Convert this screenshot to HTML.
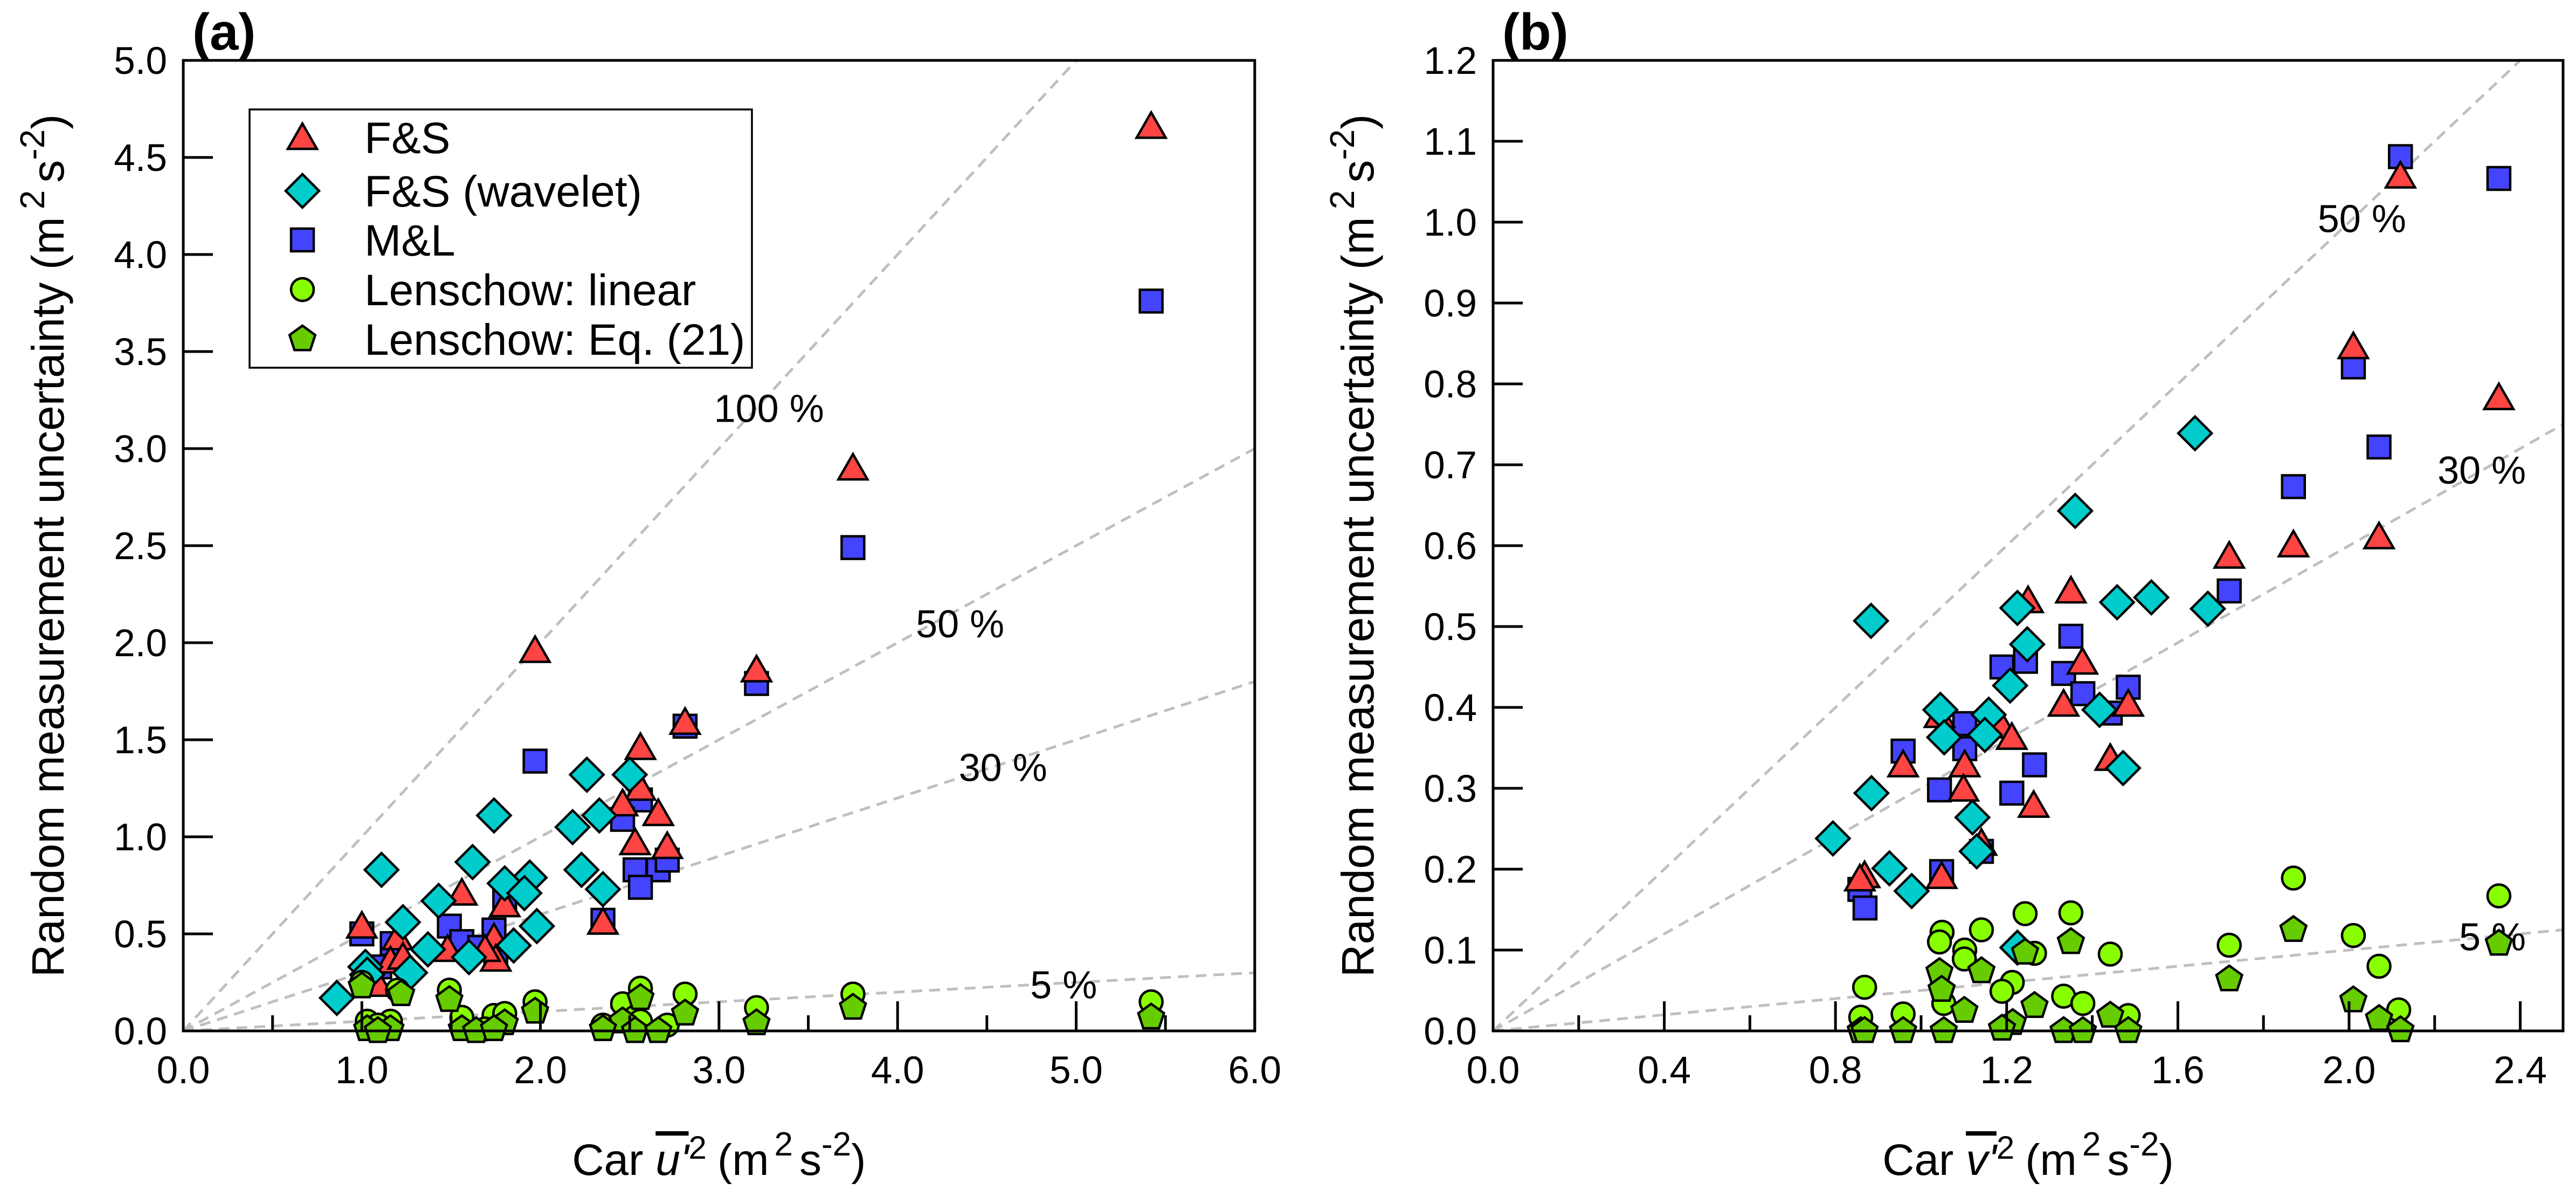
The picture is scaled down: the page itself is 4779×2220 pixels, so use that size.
<!DOCTYPE html>
<html><head><meta charset="utf-8"><style>
html,body{margin:0;padding:0;background:#fff}
svg{display:block}
text{font-family:"Liberation Sans",Arial,sans-serif;fill:#000}
</style></head><body>
<svg id="chart" width="4779" height="2220" viewBox="0 0 4779 2220" xmlns="http://www.w3.org/2000/svg">
<defs>
<clipPath id="clipA"><rect x="340" y="113" width="1988" height="1799"/></clipPath>
<clipPath id="clipB"><rect x="2770" y="113" width="1985" height="1799"/></clipPath>
</defs>
<g id="root"></g>
</svg>
<script>
// ---- Panel (a) data ----
const aFSx = [1.97,2.81,2.56,2.56,2.46,2.66,2.53,2.71,1.56,1.00,1.20,1.74,1.80,2.35,1.48,1.16,1.75,1.69,1.09,1.23,3.21,3.75,5.42];
const aFSy = [1.96,1.59,1.46,1.25,1.17,1.12,0.97,0.95,0.71,0.54,0.48,0.48,0.65,0.56,0.42,0.36,0.37,0.42,0.24,0.38,1.86,2.90,4.66];
const aMLx = [1.97,2.81,2.56,2.46,2.53,2.66,2.71,2.56,2.35,1.00,1.49,1.80,1.74,1.56,1.17,1.66,1.75,1.03,1.10,3.21,3.75,5.42];
const aMLy = [1.39,1.57,1.19,1.09,0.83,0.83,0.88,0.74,0.57,0.50,0.54,0.68,0.52,0.46,0.45,0.43,0.39,0.25,0.33,1.79,2.49,3.76];
const aWx = [2.26,2.50,1.74,2.33,2.18,1.62,1.11,2.23,1.94,1.80,1.91,2.35,1.43,1.23,1.98,1.37,1.60,1.85,1.02,1.27,0.86,1.03];
const aWy = [1.32,1.32,1.11,1.11,1.05,0.87,0.83,0.83,0.79,0.76,0.71,0.73,0.67,0.56,0.54,0.42,0.38,0.44,0.33,0.30,0.17,0.29];
const aLinx = [1.00,1.20,1.49,1.97,2.46,2.56,2.81,1.03,1.16,1.56,1.74,1.80,2.35,2.53,2.71,2.56,1.69,1.09,3.21,3.75,5.42];
const aLiny = [0.25,0.21,0.21,0.15,0.14,0.22,0.19,0.05,0.05,0.07,0.08,0.09,0.03,0.07,0.03,0.05,0.01,0.03,0.12,0.19,0.15];
const aEqx = [1.00,1.22,1.49,1.97,2.46,2.56,2.81,1.03,1.16,1.56,1.64,1.80,1.74,2.35,2.53,2.66,1.09,3.21,3.75,5.42];
const aEqy = [0.23,0.19,0.16,0.10,0.05,0.17,0.09,0.01,0.01,0.01,0.00,0.04,0.01,0.01,0.00,0.00,0.00,0.04,0.12,0.07];
const aXTicks = ["0.0","1.0","2.0","3.0","4.0","5.0","6.0"];
const aYTicks = ["0.0","0.5","1.0","1.5","2.0","2.5","3.0","3.5","4.0","4.5","5.0"];
const aRefSlopes = [1.0,0.5,0.3,0.05];
const aRefLabels = ["100 %","50 %","30 %","5 %"];
const aRefLabelX = [3.28,4.35,4.59,4.93];
const aRefLabelY = [3.21,2.10,1.36,0.24];

// ---- Panel (b) data ----
const bFSx = [2.12,2.01,2.35,1.87,2.07,1.72,1.35,1.25,1.377,1.333,1.484,1.188,1.212,1.043,0.958,1.102,1.099,1.263,1.442,1.141,0.868,0.857,1.048];
const bFSy = [1.057,0.846,0.783,0.601,0.611,0.587,0.544,0.532,0.456,0.404,0.404,0.377,0.363,0.39,0.329,0.329,0.299,0.279,0.337,0.232,0.192,0.188,0.191];
const bMLx = [2.12,2.35,2.01,2.07,1.87,1.72,1.35,1.189,1.244,1.333,1.378,1.484,1.442,1.102,1.102,0.958,1.265,1.043,1.212,1.141,1.048,0.857,0.869];
const bMLy = [1.081,1.054,0.821,0.722,0.673,0.544,0.488,0.45,0.457,0.442,0.417,0.425,0.393,0.38,0.349,0.346,0.329,0.298,0.294,0.222,0.197,0.175,0.152];
const bWx = [1.64,1.36,1.67,0.883,1.225,1.458,1.538,1.248,1.208,1.045,1.158,1.054,1.149,1.417,1.472,0.884,1.12,0.794,1.13,0.926,0.978,1.225];
const bWy = [0.739,0.643,0.522,0.507,0.523,0.53,0.536,0.478,0.427,0.397,0.391,0.363,0.366,0.397,0.325,0.294,0.264,0.238,0.222,0.201,0.173,0.103];
const bLinx = [1.243,1.35,1.049,1.043,1.141,1.102,1.101,1.265,1.442,0.868,1.213,1.189,1.333,1.378,1.053,0.859,0.958,1.484,1.72,1.87,2.01,2.07,2.116,2.35];
const bLiny = [0.145,0.146,0.122,0.11,0.125,0.1,0.089,0.096,0.095,0.054,0.06,0.049,0.043,0.034,0.034,0.017,0.021,0.019,0.106,0.189,0.118,0.08,0.026,0.167];
const bEqx = [1.35,1.243,1.043,1.141,1.048,1.101,1.265,1.442,1.214,1.189,0.859,0.868,0.958,1.053,1.333,1.378,1.484,1.72,1.87,2.01,2.07,2.12,2.35];
const bEqy = [0.11,0.097,0.073,0.074,0.051,0.025,0.031,0.019,0.01,0.003,0,0,0,0,0,0,0,0.064,0.125,0.038,0.015,0.001,0.108];
const bXTicks = ["0.0","0.4","0.8","1.2","1.6","2.0","2.4"];
const bYTicks = ["0.0","0.1","0.2","0.3","0.4","0.5","0.6","0.7","0.8","0.9","1.0","1.1","1.2"];
const bRefSlopes = [0.5,0.3,0.05];
const bRefLabels = ["50 %","30 %","5 %"];
const bRefLabelX = [2.03,2.31,2.335];
const bRefLabelY = [1.005,0.694,0.117];

const NS = "http://www.w3.org/2000/svg";
const root = document.getElementById('root');
function mk(tag, attrs, parent){
  const e = document.createElementNS(NS, tag);
  for (const k in attrs) e.setAttribute(k, attrs[k]);
  (parent||root).appendChild(e);
  return e;
}
const COL = {fs:"#ff4444", w:"#00cccc", ml:"#4444ff", lin:"#88ff00", eq:"#66cc00"};

function marker(kind, cx, cy, parent){
  let e;
  if (kind==='tri'){
    const w=27, h=47;
    e = mk('polygon',{points:`${cx},${cy-h*0.55} ${cx+w},${cy+h*0.45} ${cx-w},${cy+h*0.45}`, fill:COL.fs, stroke:'#000','stroke-width':4.5},parent);
  } else if (kind==='sq'){
    e = mk('rect',{x:cx-21,y:cy-21,width:42,height:42, fill:COL.ml, stroke:'#000','stroke-width':4.5},parent);
  } else if (kind==='dia'){
    const r=31;
    e = mk('polygon',{points:`${cx},${cy-r} ${cx+r},${cy} ${cx},${cy+r} ${cx-r},${cy}`, fill:COL.w, stroke:'#000','stroke-width':4.5},parent);
  } else if (kind==='cir'){
    e = mk('circle',{cx:cx,cy:cy,r:21, fill:COL.lin, stroke:'#000','stroke-width':4.5},parent);
  } else {
    const R=25; let pts=[];
    for(let i=0;i<5;i++){const a=-Math.PI/2+i*2*Math.PI/5; pts.push((cx+R*Math.cos(a)).toFixed(1)+','+(cy+R*Math.sin(a)).toFixed(1));}
    e = mk('polygon',{points:pts.join(' '), fill:COL.eq, stroke:'#000','stroke-width':4.5},parent);
  }
  return e;
}

function panel(cfg){
  const g = mk('g',{});
  
  
  const X = v => cfg.x0 + v * cfg.pxX;
  const Y = v => cfg.y0 - v * cfg.pxY;
  const right = cfg.x0 + cfg.xmax*cfg.pxX;
  const rg = mk('g',{'clip-path':`url(#${cfg.clip})`},g);
  
  
  cfg.slopes.forEach((s,i)=>{
    const l = mk('line',{x1:X(0),y1:Y(0),x2:X(cfg.xmax),y2:Y(s*cfg.xmax),stroke:'#bfbfbf','stroke-width':5,'stroke-dasharray':'20 13'},rg);
    
    
  });
  cfg.refLabels.forEach((t,i)=>{
    const tx = mk('text',{x:X(cfg.refLX[i]),y:Y(cfg.refLY[i])+26,'font-size':72,'text-anchor':'middle'},g);
    tx.textContent = t;
    
    
  });
  const series = [
    ['sq', cfg.ml[0], cfg.ml[1], 'ml-point'],
    ['tri', cfg.fs[0], cfg.fs[1], 'fs-point'],
    ['dia', cfg.w[0], cfg.w[1], 'fs-wavelet-point'],
    ['cir', cfg.lin[0], cfg.lin[1], 'lenschow-linear-point'],
    ['pent', cfg.eq[0], cfg.eq[1], 'lenschow-eq21-point']
  ];
  series.forEach(([k,xs,ys,nm])=>{
    xs.forEach((xv,i)=>{
      const m = marker(k, X(xv), Y(ys[i]), g);
      
      
    });
  });
  const fr = mk('rect',{x:cfg.x0,y:Y(cfg.ymax),width:right-cfg.x0,height:cfg.y0-Y(cfg.ymax),fill:'none',stroke:'#000','stroke-width':5},g);
  
  
  cfg.xt.forEach((t,i)=>{
    const v = parseFloat(t);
    const px = X(v);
    const tk = mk('line',{x1:px,y1:cfg.y0,x2:px,y2:cfg.y0-55,stroke:'#000','stroke-width':5},g);
    
    
    const tl = mk('text',{x:px,y:2009,'font-size':71,'text-anchor':'middle'},g);
    tl.textContent = t;
    
    
    if (i < cfg.xt.length-1){
      const mv = v + cfg.xstep/2;
      const mt = mk('line',{x1:X(mv),y1:cfg.y0,x2:X(mv),y2:cfg.y0-29,stroke:'#000','stroke-width':5},g);
      
      
    }
  });
  cfg.yt.forEach(t=>{
    const v = parseFloat(t);
    const py = Y(v);
    const tk = mk('line',{x1:cfg.x0,y1:py,x2:cfg.x0+55,y2:py,stroke:'#000','stroke-width':5},g);
    
    
    const tl = mk('text',{x:cfg.x0-30,y:py+25,'font-size':71,'text-anchor':'end'},g);
    tl.textContent = t;
    
    
  });
  const pl = mk('text',{x:cfg.x0+17,y:92,'font-size':96,'font-weight':'bold'},g);
  pl.textContent = cfg.label;
  
  
  const cy = (cfg.y0 + Y(cfg.ymax))/2;
  const yt = mk('text',{x:0,y:0,'font-size':84,'text-anchor':'middle',transform:`translate(${cfg.x0-222},${cy}) rotate(-90)`},g);
  yt.innerHTML = 'Random measurement uncertainty (m<tspan dx="14" dy="-36" font-size="64">2</tspan><tspan dx="14" dy="36">s</tspan><tspan dy="-36" font-size="64">-2</tspan><tspan dy="36">)</tspan>';
  
  
  const cx = (cfg.x0 + right)/2;
  const xt = mk('text',{x:cx,y:2179,'font-size':82,'text-anchor':'middle'},g);
  xt.innerHTML = 'Car <tspan font-style="italic" text-decoration="overline">'+cfg.v+'\'</tspan><tspan dy="-30" font-size="60">2</tspan><tspan dx="20" dy="30">(m</tspan><tspan dx="10" dy="-36" font-size="62">2</tspan><tspan dx="12" dy="36">s</tspan><tspan dy="-36" font-size="62">-2</tspan><tspan dy="36">)</tspan>';
  
  
  return g;
}

panel({name:'panel-a', clip:'clipA', x0:340, y0:1912, pxX:331.3, pxY:360, xmax:6, ymax:5, xstep:1,
  xt:aXTicks, yt:aYTicks, slopes:aRefSlopes, refLabels:aRefLabels, refLX:aRefLabelX, refLY:aRefLabelY,
  fs:[aFSx,aFSy], ml:[aMLx,aMLy], w:[aWx,aWy], lin:[aLinx,aLiny], eq:[aEqx,aEqy], label:'(a)', v:'u'});
panel({name:'panel-b', clip:'clipB', x0:2770, y0:1912, pxX:794, pxY:1500, xmax:2.5, ymax:1.2, xstep:0.4,
  xt:bXTicks, yt:bYTicks, slopes:bRefSlopes, refLabels:bRefLabels, refLX:bRefLabelX, refLY:bRefLabelY,
  fs:[bFSx,bFSy], ml:[bMLx,bMLy], w:[bWx,bWy], lin:[bLinx,bLiny], eq:[bEqx,bEqy], label:'(b)', v:'v'});

const lg = mk('g',{});


const lb = mk('rect',{x:463,y:203,width:932,height:479,fill:'#fff',stroke:'#000','stroke-width':3.5},lg);


const legKinds = ['tri','dia','sq','cir','pent'];
const legNames = ['F&S','F&S (wavelet)','M&L','Lenschow: linear','Lenschow: Eq. (21)'];
const legY = [255,354,445,537,629];
legKinds.forEach((k,i)=>{
  const m = marker(k, 561, legY[i], lg);
  
  
  const t = mk('text',{x:676,y:legY[i]+29,'font-size':82},lg);
  t.textContent = legNames[i];
  
  
});
</script>
</body></html>
